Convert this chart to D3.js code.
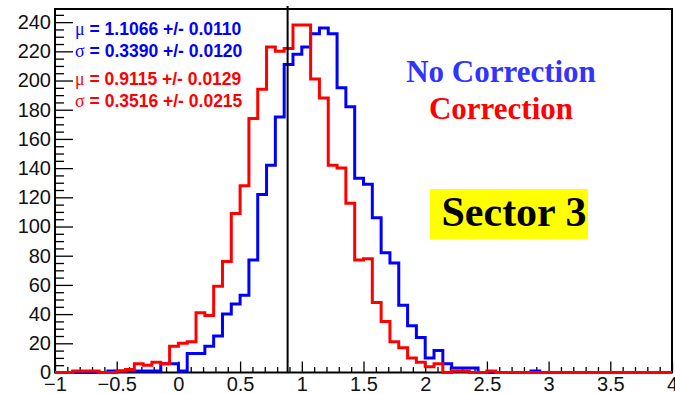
<!DOCTYPE html>
<html><head><meta charset="utf-8">
<script src="https://cdn.jsdelivr.net/npm/d3@7"></script>
<style>body{margin:0;background:#fff}svg{display:block}</style>
</head><body>
<svg id="c" width="675" height="394"></svg>
<script>
// ---- data ----
const xMin = -1, xMax = 4, nBins = 70;
const blueCounts = [0,0,0,0,0,0,1,1,1,1,1,1,6,6,1,13,13,18,25,40,47,53,77,122,142,175,211,218,223,232,236,232,195,182,133,129,106,82,75,46,32,24,10,15,6,3,3,3,0,0,0,0,0,0,1,0,0,0,0,0,0,0,0,0,0,0,0,0,0,0];
const redCounts  = [0,0,1,1,1,0,0,1,2,6,5,7,6,18,20,21,41,39,59,76,109,128,174,194,223,220,222,238,238,201,188,142,140,116,77,78,48,35,21,17,10,7,4,6,0,1,1,0,0,1,0,0,0,0,0,0,0,0,0,0,0,0,0,0,0,0,0,0,0,0];
const yMaxData = 249;
const yTickValues = [0,20,40,60,80,100,120,140,160,180,200,220,240];
const xTickValues = [-1,-0.5,0,0.5,1,1.5,2,2.5,3,3.5,4];
const xTickLabels = ["\u22121","\u22120.5","0","0.5","1","1.5","2","2.5","3","3.5","4"];
const vLineX = 0.885;
const statsBlue = [["\u03bc"," = 1.1066 +/- 0.0110"],["\u03c3"," = 0.3390 +/- 0.0120"]];
const statsRed  = [["\u03bc"," = 0.9115 +/- 0.0129"],["\u03c3"," = 0.3516 +/- 0.0215"]];

// ---- chart ----
const svg = d3.select("#c");
const L = 55, R = 672, T = 9, B = 372.5;
const x = d3.scaleLinear().domain([xMin, xMax]).range([L, R]);
const y = d3.scaleLinear().domain([0, yMaxData]).range([B, T]);
const bw = (xMax - xMin) / nBins;

// frame
svg.append("rect").attr("x", L).attr("y", T).attr("width", R - L).attr("height", B - T)
  .attr("fill", "none").attr("stroke", "#000").attr("stroke-width", 2);

// axes ticks
const yMajor = d3.axisLeft(y).tickValues(yTickValues).tickSize(-18).tickPadding(4);
const yMinor = d3.axisLeft(y).tickValues(d3.range(0, yMaxData, 5).filter(v => v % 20 !== 0)).tickSize(-9).tickFormat("");
const xMajor = d3.axisBottom(x).tickValues(xTickValues).tickSize(-11).tickPadding(4).tickFormat((d, i) => xTickLabels[i]);
const xMinor = d3.axisBottom(x).tickValues(d3.range(-9, 40).map(v => v / 10).filter(v => Math.abs(v * 2 - Math.round(v * 2)) > 1e-6)).tickSize(-5.5).tickFormat("");

function style(g) {
  g.select(".domain").remove();
  g.selectAll(".tick line").attr("stroke", "#000").attr("stroke-width", 1.3);
  g.selectAll(".tick text").attr("fill", "#111").attr("font-family", "'Liberation Sans', Arial, sans-serif").attr("font-size", 20);
}
svg.append("g").attr("transform", `translate(${L},0)`).call(yMajor).call(style);
svg.append("g").attr("transform", `translate(${L},0)`).call(yMinor).call(style);
svg.append("g").attr("transform", `translate(0,${B})`).call(xMajor).call(style);
svg.append("g").attr("transform", `translate(0,${B})`).call(xMinor).call(style);

// histograms
function stepPoints(counts) {
  const pts = [[xMin, 0]];
  counts.forEach((v, i) => { pts.push([xMin + i * bw, v]); pts.push([xMin + (i + 1) * bw, v]); });
  pts.push([xMax, 0]);
  return pts;
}
const line = d3.line().x(d => x(d[0])).y(d => y(d[1]));
svg.append("path").attr("d", line(stepPoints(blueCounts))).attr("fill", "none")
  .attr("stroke", "#0000ff").attr("stroke-width", 3).attr("stroke-linejoin", "miter");
svg.append("path").attr("d", line(stepPoints(redCounts))).attr("fill", "none")
  .attr("stroke", "#ff0000").attr("stroke-width", 3).attr("stroke-linejoin", "miter");

// vertical line
svg.append("line").attr("x1", x(vLineX)).attr("x2", x(vLineX)).attr("y1", y(0)).attr("y2", y(251))
  .attr("stroke", "#000").attr("stroke-width", 2);

// stats text
function stats(lines, color, baselines) {
  lines.forEach((ln, i) => {
    const t = svg.append("text").attr("x", 75).attr("y", baselines[i]).attr("fill", color)
      .attr("font-family", "'Liberation Sans', Arial, sans-serif").attr("font-size", 17.5).attr("font-weight", "bold");
    t.append("tspan").attr("font-family", "'Liberation Serif', serif").attr("font-weight", "normal").attr("font-size", 18).text(ln[0]);
    t.append("tspan").text(ln[1]);
  });
}
stats(statsBlue, "#0000ff", [35, 57]);
stats(statsRed, "#ff0000", [85, 107]);

// labels
svg.append("text").attr("x", 501).attr("y", 82).attr("text-anchor", "middle")
  .attr("font-family", "'Liberation Serif', 'Times New Roman', serif").attr("font-weight", "bold")
  .attr("font-size", 31).attr("fill", "#3333ff").text("No Correction");
svg.append("text").attr("x", 501).attr("y", 119).attr("text-anchor", "middle")
  .attr("font-family", "'Liberation Serif', 'Times New Roman', serif").attr("font-weight", "bold")
  .attr("font-size", 31).attr("fill", "#ff0000").text("Correction");
svg.append("rect").attr("x", 430).attr("y", 189).attr("width", 158).attr("height", 50).attr("fill", "#ffff00");
svg.append("text").attr("x", 514).attr("y", 226).attr("text-anchor", "middle")
  .attr("font-family", "'Liberation Serif', 'Times New Roman', serif").attr("font-weight", "bold")
  .attr("font-size", 42).attr("fill", "#000").text("Sector 3");
</script>
</body></html>
